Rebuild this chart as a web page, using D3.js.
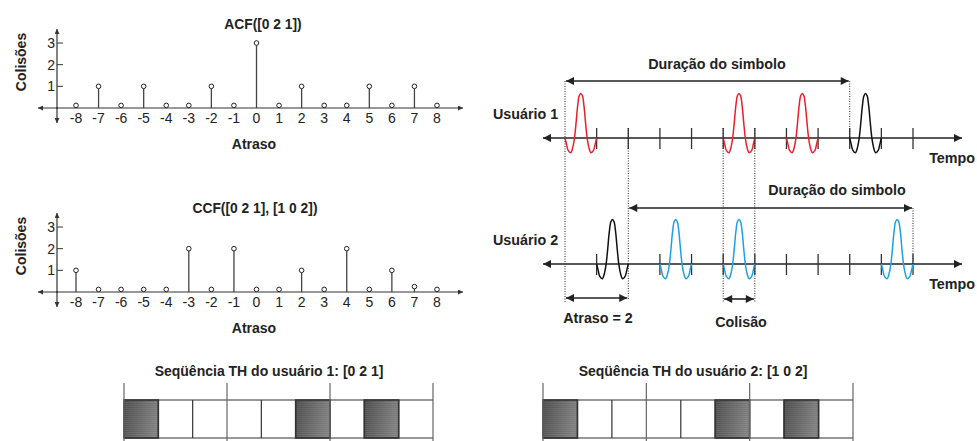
<!DOCTYPE html>
<html>
<head>
<meta charset="utf-8">
<script src="https://cdn.jsdelivr.net/npm/d3@7"></script>
<style>
  html, body { margin: 0; padding: 0; background: #fff; }
  svg { display: block; font-family: "Liberation Sans", Arial, sans-serif; }
</style>
</head>
<body>
<div id="svg-container"></div>
<script>
// data
const lags = [-8, -7, -6, -5, -4, -3, -2, -1, 0, 1, 2, 3, 4, 5, 6, 7, 8];
const acfValues = [0, 1, 0, 1, 0, 0, 1, 0, 3, 0, 1, 0, 0, 1, 0, 1, 0];
const ccfValues = [1, 0, 0, 0, 0, 2, 0, 2, 0, 0, 1, 0, 2, 0, 1, 0.25, 0];
const yTickValues = [1, 2, 3];

// pulse slots (chip index) per user
const user1Red = [0, 5, 7];
const user1Black = [9];
const user2Black = [1];
const user2Blue = [3, 5, 10];
const user1Ticks = [1, 2, 3, 4, 5, 6, 7, 8, 9, 10, 11];
const user2Ticks = [1, 3, 4, 5, 6, 7, 8, 9, 10, 11];

// pulse shape (position in slot, amplitude)
const pulseT = [0, 0.05, 0.1, 0.18, 0.25, 0.3, 0.35, 0.4, 0.45, 0.5, 0.55, 0.6, 0.65, 0.7, 0.75, 0.82, 0.9, 0.95, 1];
const pulseA = [0, -0.15, -0.28, -0.33, -0.2, 0, 0.34, 0.72, 0.95, 1, 0.95, 0.72, 0.34, 0, -0.2, -0.33, -0.28, -0.15, 0];

// TH sequences (filled cells out of 9)
const th1Filled = [0, 5, 7];
const th2Filled = [0, 5, 7];
const cellCount = 9;

const width = 977, height = 441;
const svg = d3.select("#svg-container").append("svg")
  .attr("width", width).attr("height", height);

svg.append("rect").attr("width", width).attr("height", height).attr("fill", "#fff");

const defs = svg.append("defs");
function marker(id, color, w, h) {
  defs.append("marker").attr("id", id)
    .attr("viewBox", "0 0 10 10").attr("refX", 10).attr("refY", 5)
    .attr("markerWidth", w).attr("markerHeight", h)
    .attr("markerUnits", "userSpaceOnUse")
    .attr("orient", "auto-start-reverse")
    .append("path").attr("d", "M0,0 L10,5 L0,10 Z").attr("fill", color);
}
marker("arrSmall", "#333", 7, 5);
marker("arrBig", "#222", 10, 8);

const grad = defs.append("linearGradient").attr("id", "cellGrad")
  .attr("x1", "0%").attr("x2", "100%").attr("y1", "0%").attr("y2", "20%");
grad.append("stop").attr("offset", "0%").attr("stop-color", "#4c4c4c");
grad.append("stop").attr("offset", "100%").attr("stop-color", "#7e7e7e");
const pat = defs.append("pattern").attr("id", "cellLines")
  .attr("width", 6).attr("height", 2).attr("patternUnits", "userSpaceOnUse");
pat.append("rect").attr("width", 6).attr("height", 1).attr("fill", "rgba(255,255,255,0.08)");

////////////////////////////  stem charts  ////////////////////////////
function stemChart(values, y0, title, titleX) {
  const g = svg.append("g");
  const x = d3.scaleLinear().domain([-8, 8]).range([76, 437]);
  const y = d3.scaleLinear().domain([0, 3]).range([y0, y0 - 65]);

  // axes
  g.append("line").attr("x1", 57).attr("x2", 57).attr("y1", y0 + 1).attr("y2", y0 - 79)
    .attr("stroke", "#333").attr("stroke-width", 1.2).attr("marker-end", "url(#arrSmall)");
  g.append("line").attr("x1", 57).attr("x2", 57).attr("y1", y0 - 1).attr("y2", y0 + 15)
    .attr("stroke", "#333").attr("stroke-width", 1.2).attr("marker-end", "url(#arrSmall)");
  g.append("line").attr("x1", 250).attr("x2", 463).attr("y1", y0).attr("y2", y0)
    .attr("stroke", "#333").attr("stroke-width", 1.2).attr("marker-end", "url(#arrSmall)");
  g.append("line").attr("x1", 250).attr("x2", 38).attr("y1", y0).attr("y2", y0)
    .attr("stroke", "#333").attr("stroke-width", 1.2).attr("marker-end", "url(#arrSmall)");

  // y ticks
  g.selectAll(".yt").data(yTickValues).join("line")
    .attr("x1", 57).attr("x2", 63).attr("y1", d => y(d)).attr("y2", d => y(d))
    .attr("stroke", "#333").attr("stroke-width", 1);
  g.selectAll(".yl").data(yTickValues).join("text")
    .attr("x", 55).attr("y", d => y(d) + 5).attr("text-anchor", "end")
    .attr("font-size", 14).attr("fill", "#222").text(d => d);

  // x tick labels
  g.selectAll(".xl").data(lags).join("text")
    .attr("x", d => x(d)).attr("y", y0 + 15).attr("text-anchor", "middle")
    .attr("font-size", 14).attr("fill", "#222").text(d => d);

  // stems
  const pts = lags.map((d, i) => ({ lag: d, v: values[i] }));
  g.selectAll(".stem").data(pts.filter(d => d.v > 0)).join("line")
    .attr("x1", d => x(d.lag)).attr("x2", d => x(d.lag))
    .attr("y1", y0).attr("y2", d => y(d.v) + 2.3)
    .attr("stroke", "#444").attr("stroke-width", 1.3);
  g.selectAll(".pt").data(pts).join("circle")
    .attr("cx", d => x(d.lag)).attr("cy", d => d.v > 0 ? y(d.v) : y0 - 2.6)
    .attr("r", 2.3).attr("fill", "#fff").attr("stroke", "#222").attr("stroke-width", 1);

  g.append("text").attr("x", titleX).attr("y", y0 - 79).attr("text-anchor", "middle")
    .attr("font-size", 13.8).attr("font-weight", "bold").attr("fill", "#222").text(title);
  g.append("text").attr("x", 254).attr("y", y0 + 41).attr("text-anchor", "middle")
    .attr("font-size", 14).attr("font-weight", "bold").attr("fill", "#222").text("Atraso");
  g.append("text").attr("transform", `translate(26,${y0 - 46}) rotate(-90)`)
    .attr("text-anchor", "middle")
    .attr("font-size", 14).attr("font-weight", "bold").attr("fill", "#222").text("Colisões");
}

stemChart(acfValues, 108, "ACF([0 2 1])", 263);
stemChart(ccfValues, 292, "CCF([0 2 1], [1 0 2])", 255);

////////////////////////////  pulse diagrams  ////////////////////////////
const xs = d3.scaleLinear().domain([0, 11]).range([565, 913]);
const slotW = xs(1) - xs(0);
const pulsePts = pulseT.map((t, i) => [t, pulseA[i]]);

function timeline(axisY, ticks, pulses) {
  const g = svg.append("g");
  const amp = d3.scaleLinear().domain([-1, 1]).range([axisY + 44.5, axisY - 44.5]);

  g.append("line").attr("x1", 700).attr("x2", 962).attr("y1", axisY).attr("y2", axisY)
    .attr("stroke", "#222").attr("stroke-width", 1.6).attr("marker-end", "url(#arrBig)");
  g.append("line").attr("x1", 700).attr("x2", 543).attr("y1", axisY).attr("y2", axisY)
    .attr("stroke", "#222").attr("stroke-width", 1.6).attr("marker-end", "url(#arrBig)");

  g.selectAll(".tk").data(ticks).join("line")
    .attr("x1", d => xs(d)).attr("x2", d => xs(d))
    .attr("y1", axisY - 10).attr("y2", axisY + 11)
    .attr("stroke", "#333").attr("stroke-width", 1.3);

  pulses.forEach(p => {
    const line = d3.line()
      .x(d => xs(p.slot) + d[0] * slotW)
      .y(d => amp(d[1]))
      .curve(d3.curveCatmullRom);
    g.append("path").datum(pulsePts).attr("d", line)
      .attr("fill", "none").attr("stroke", p.color).attr("stroke-width", 1.5);
  });
}

timeline(138, user1Ticks,
  user1Red.map(s => ({ slot: s, color: "#e8202a" }))
    .concat(user1Black.map(s => ({ slot: s, color: "#111" }))));
timeline(264, user2Ticks,
  user2Black.map(s => ({ slot: s, color: "#111" }))
    .concat(user2Blue.map(s => ({ slot: s, color: "#1ea0e0" }))));

// dotted guides
const guides = [
  { s: 0, y1: 81, y2: 302 },
  { s: 2, y1: 128, y2: 300 },
  { s: 5, y1: 128, y2: 303 },
  { s: 6, y1: 128, y2: 303 },
  { s: 9, y1: 81, y2: 138 },
  { s: 11, y1: 208, y2: 264 }
];
svg.selectAll(".guide").data(guides).join("line")
  .attr("x1", d => xs(d.s)).attr("x2", d => xs(d.s))
  .attr("y1", d => d.y1).attr("y2", d => d.y2)
  .attr("stroke", "#222").attr("stroke-width", 1).attr("stroke-dasharray", "1,1.5");

// arrows
const arrows = [
  { a: 0, b: 9, y: 81 },
  { a: 2, b: 11, y: 208 },
  { a: 0, b: 2, y: 298 },
  { a: 5, b: 6, y: 299 }
];
svg.selectAll(".arr").data(arrows).join("line")
  .attr("x1", d => xs(d.a) + 1).attr("x2", d => xs(d.b) - 1)
  .attr("y1", d => d.y).attr("y2", d => d.y)
  .attr("stroke", "#222").attr("stroke-width", 1.6)
  .attr("marker-start", "url(#arrBig)").attr("marker-end", "url(#arrBig)");

const labels = [
  { t: "Duração do simbolo", x: 717, y: 69, a: "middle" },
  { t: "Usuário 1", x: 493, y: 119, a: "start" },
  { t: "Tempo", x: 975, y: 163, a: "end" },
  { t: "Duração do simbolo", x: 837, y: 195, a: "middle" },
  { t: "Usuário 2", x: 493, y: 245, a: "start" },
  { t: "Tempo", x: 975, y: 289, a: "end" },
  { t: "Atraso = 2", x: 598, y: 323, a: "middle" },
  { t: "Colisão", x: 741, y: 327, a: "middle" }
];
svg.selectAll(".lbl").data(labels).join("text")
  .attr("x", d => d.x).attr("y", d => d.y).attr("text-anchor", d => d.a)
  .attr("font-size", 14.3).attr("font-weight", "bold").attr("fill", "#222").text(d => d.t);

////////////////////////////  TH sequences  ////////////////////////////
function thBar(x0, x1, filled, title, titleX) {
  const g = svg.append("g");
  const xc = d3.scaleLinear().domain([0, cellCount]).range([x0, x1]);
  const top = 400, bot = 438;

  g.selectAll(".fill").data(filled).join("rect")
    .attr("x", d => xc(d)).attr("y", top).attr("width", xc(1) - xc(0)).attr("height", bot - top)
    .attr("fill", "url(#cellGrad)").attr("stroke", "#333").attr("stroke-width", 1.6);
  g.selectAll(".fillp").data(filled).join("rect")
    .attr("x", d => xc(d)).attr("y", top).attr("width", xc(1) - xc(0)).attr("height", bot - top)
    .attr("fill", "url(#cellLines)");

  g.selectAll(".hl").data([top, bot]).join("line")
    .attr("x1", x0).attr("x2", x1).attr("y1", d => d).attr("y2", d => d)
    .attr("stroke", "#333").attr("stroke-width", 1.2);
  g.selectAll(".div").data([1, 2, 4, 5, 7, 8]).join("line")
    .attr("x1", d => xc(d)).attr("x2", d => xc(d)).attr("y1", top).attr("y2", bot)
    .attr("stroke", "#333").attr("stroke-width", 1.2);
  g.selectAll(".frame").data([0, 3, 6, 9]).join("line")
    .attr("x1", d => xc(d)).attr("x2", d => xc(d)).attr("y1", 383).attr("y2", 441)
    .attr("stroke", "#666").attr("stroke-width", 1.2);

  g.append("text").attr("x", titleX).attr("y", 376).attr("text-anchor", "middle")
    .attr("font-size", 14).attr("font-weight", "bold").attr("fill", "#222").text(title);
}

thBar(124, 433, th1Filled, "Seqüência TH do usuário 1: [0 2 1]", 269);
thBar(543, 853, th2Filled, "Seqüência TH do usuário 2: [1 0 2]", 693);
</script>
</body>
</html>
